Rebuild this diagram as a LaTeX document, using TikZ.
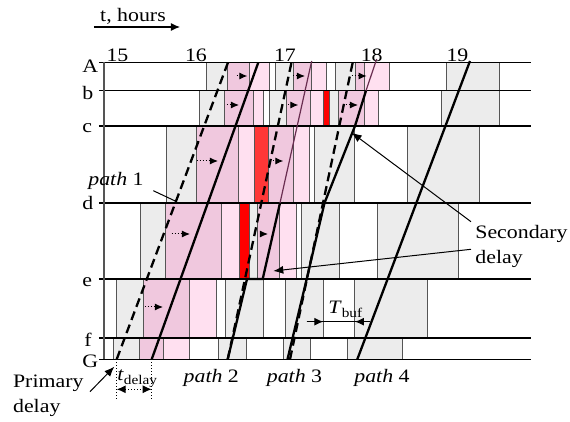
\documentclass[tikz,border=0pt]{standalone}
\usepackage{fontspec}
\setmainfont{Liberation Serif}[FakeStretch=1.15]
\usetikzlibrary{arrows.meta, positioning}

\definecolor{blkgray}{RGB}{236,236,236}
\definecolor{blkpink}{RGB}{240,200,222}
\definecolor{blkpale}{RGB}{255,224,240}
\definecolor{blkred}{RGB}{255,0,0}
\definecolor{blkredc}{RGB}{255,55,55}
\definecolor{edgegray}{RGB}{85,85,85}
\definecolor{pathplum}{RGB}{105,45,80}

\tikzset{
  gblk/.style={fill=blkgray, draw=edgegray, line width=0.5pt},
  pblk/.style={fill=blkpink, draw=edgegray, line width=0.5pt},
  lblk/.style={fill=blkpale, draw=edgegray, line width=0.5pt},
  rblk/.style={fill=blkred, draw=edgegray, line width=0.5pt},
  rcblk/.style={fill=blkredc, draw=edgegray, line width=0.5pt},
  stationline/.style={line width=0.6pt},
  realpath/.style={line width=1.15pt},
  thinpath/.style={line width=0.6pt, draw=pathplum},
  planpath/.style={line width=1.15pt, dash pattern=on 4.5pt off 2.5pt},
  shiftarrow/.style={densely dotted, line width=0.5pt, -{Latex[length=4pt,width=3.5pt]}},
  callout/.style={line width=0.5pt, -{Latex[length=5pt,width=4pt]}},
  lbl/.style={font=\fontsize{9.5}{12.5}\selectfont, inner sep=0pt},
}

\begin{document}
\begin{tikzpicture}[x=0.5pt, y=-0.5pt]
\useasboundingbox (0,0) rectangle (570,422);

% blocks, row A
\foreach \xa/\xb/\s in {206.7/227.3/gblk, 227.3/250/pblk, 250/270/lblk, 275.7/293.3/gblk,
    293.3/311.7/pblk, 311.7/326.7/lblk, 335.7/356/gblk, 356/365/pblk, 365/389.3/lblk, 446.7/500/gblk}
  \draw[\s] (\xa,62.5) rectangle (\xb,90.7);
% row b
\foreach \xa/\xb/\s in {200/225/gblk, 225/253.3/pblk, 253.3/263.3/lblk, 270/286.7/gblk,
    286.7/310.7/pblk, 310.7/323.3/lblk, 323.3/330/rblk, 330/338.3/gblk, 338.3/365/pblk,
    365/379/lblk, 441.7/500/gblk}
  \draw[\s] (\xa,90.7) rectangle (\xb,126);
% row c
\foreach \xa/\xb/\s in {166.7/196.7/gblk, 196.7/238.3/pblk, 238.3/255/lblk, 255/268.3/rcblk,
    268.3/293.3/pblk, 293.3/309.3/lblk, 315/355/gblk, 407.7/480/gblk}
  \draw[\s] (\xa,126) rectangle (\xb,203);
% row d
\foreach \xa/\xb/\s in {141/165.7/gblk, 165.7/221.7/pblk, 221.7/240/lblk, 240/250/rblk,
    250/257.7/gblk, 257.7/280/pblk, 280/296.7/lblk, 301.7/340/gblk, 377.7/458.3/gblk}
  \draw[\s] (\xa,203) rectangle (\xb,279);
% row e
\foreach \xa/\xb/\s in {116.7/144/gblk, 144/190/pblk, 190/216.7/lblk, 226/263.3/gblk,
    286/323.3/gblk, 355/427.7/gblk}
  \draw[\s] (\xa,279) rectangle (\xb,338);
% row f
\foreach \xa/\xb/\s in {114/139.3/gblk, 139.3/164/pblk, 164/189.3/lblk, 218.3/246.7/gblk,
    283.3/310.7/gblk, 347.7/402.3/gblk}
  \draw[\s] (\xa,338) rectangle (\xb,359.3);

% shifts of delayed blocks
\foreach \xa/\xb/\y in {236.7/247.3/76, 293.3/305/76, 351.7/366.7/76,
    227/239/105, 288.3/298.3/105, 343/358/105,
    196.7/218/161, 270/283.3/161, 171.7/190/234, 260/268/234, 145/163/307}
  \draw[shiftarrow] (\xa,\y) -- (\xb,\y);

% stations and axis
\foreach \name/\y in {A/62.5, b/90.7, c/126, d/203, e/279, f/338, G/359.3}
  \draw[stationline] (99,\y) -- (530.7,\y);
\draw[edgegray, line width=0.8pt] (104.3,62.5) -- (104.3,359.3);

\node[lbl, anchor=base west] (stA) at (82,73) {A};
\node[lbl, anchor=base west] (stb) at (82,100) {b};
\node[lbl, anchor=base west] (stc) at (82,133) {c};
\node[lbl, anchor=base west] (std) at (82,210) {d};
\node[lbl, anchor=base west] (ste) at (82,287) {e};
\node[lbl, anchor=base west] (stf) at (84,346.5) {f};
\node[lbl, anchor=base west] (stG) at (82,368) {G};

\node[lbl, anchor=base] (h15) at (117.5,61.5) {15};
\node[lbl, anchor=base] (h16) at (196,61.5) {16};
\node[lbl, anchor=base] (h17) at (285,61.5) {17};
\node[lbl, anchor=base] (h18) at (371.7,61.5) {18};
\node[lbl, anchor=base] (h19) at (457.5,61.5) {19};

\node[lbl, anchor=base] (thours) at (133,21.5) {t, hours};
\coordinate (tax0) at (94,27);
\coordinate (tax1) at (180,27);
\draw[line width=0.6pt, -{Latex[length=4.5pt,width=4pt]}] (tax0) -- (tax1);

% planned paths
\coordinate (p1a) at (116.7,359.3); \coordinate (p1b) at (228,62.5);
\coordinate (p2a) at (227.7,359.3); \coordinate (p2b) at (291.5,62.5);
\coordinate (p3a) at (290,359.3);   \coordinate (p3b) at (352.7,62.5);
\draw[planpath] (p1a) -- (p1b);
\draw[planpath] (p2a) -- (p2b);
\draw[planpath] (p3a) -- (p3b);

% real paths
\coordinate (q1a) at (151.7,359.3); \coordinate (q1b) at (258.3,62.5);
\draw[realpath] (q1a) -- (q1b);
\coordinate (q2a) at (227.7,359.3); \coordinate (q2b) at (247,279);
\coordinate (q2c) at (262.7,279);   \coordinate (q2d) at (280,203);
\coordinate (q2e) at (311.7,61);
\draw[realpath] (q2a) -- (q2b) -- (q2c) -- (q2d);
\draw[thinpath] (q2d) -- (q2e);
\coordinate (q3a) at (287.5,359.3); \coordinate (q3b) at (306.7,279);
\coordinate (q3c) at (324.5,203);   \coordinate (q3d) at (355,126);
\coordinate (q3e) at (366,90.7);    \coordinate (q3f) at (376.7,59);
\draw[realpath] (q3a) -- (q3b) -- (q3c) -- (q3d) -- (q3e);
\draw[thinpath] (q3e) -- (q3f);
\coordinate (q4a) at (357.3,359.3); \coordinate (q4b) at (470,61);
\draw[realpath] (q4a) -- (q4b);

% path labels
\node[lbl, anchor=base] (path1) at (116,186) {\textit{path} 1};
\coordinate (path1end) at (176.7,201.7);
\draw[line width=0.5pt] (153.3,190.7) -- (path1end);
\node[lbl, anchor=base] (path2) at (211.3,383) {\textit{path} 2};
\node[lbl, anchor=base] (path3) at (294.5,383) {\textit{path} 3};
\node[lbl, anchor=base] (path4) at (382,383) {\textit{path} 4};

% secondary delay
\node[lbl, align=left, anchor=north west] (secd) at (475,225) {Secondary\\delay};
\coordinate (sd1) at (471,221.7); \coordinate (st1) at (351.7,132.7);
\coordinate (sd2) at (471,249.3); \coordinate (st2) at (273.3,271);
\draw[callout] (sd1) -- (st1);
\draw[callout] (sd2) -- (st2);

% primary delay
\node[lbl, align=left, anchor=north west] (primd) at (12.7,375) {Primary\\delay};
\coordinate (pd1) at (90,391.7); \coordinate (pt1) at (114.3,366.7);
\draw[callout] (pd1) -- (pt1);

% t delay
\coordinate (td0) at (116.7,359.3); \coordinate (td1) at (151.7,359.3);
\coordinate (td0b) at (116.7,400.7); \coordinate (td1b) at (151.7,400.7);
\draw[densely dotted, line width=0.5pt] (td0) -- (td0b);
\draw[densely dotted, line width=0.5pt] (td1) -- (td1b);
\draw[densely dotted, line width=0.5pt, {Latex[length=4.5pt,width=4pt]}-{Latex[length=4.5pt,width=4pt]}]
  (116.7,389.3) -- (151.7,389.3);
\node[lbl, anchor=base west] (tdelay) at (117,381) {\textit{t}\textsubscript{delay}};

% buffer time
\coordinate (tb0) at (306.7,321.7); \coordinate (tb1) at (323.3,321.7);
\coordinate (tb2) at (355,321.7);   \coordinate (tb3) at (370,321.7);
\draw[line width=0.5pt] (tb0) -- (tb3);
\draw[line width=0.5pt, -{Latex[length=4.5pt,width=4pt]}] (tb0) -- (tb1);
\draw[line width=0.5pt, -{Latex[length=4.5pt,width=4pt]}] (tb3) -- (tb2);
\node[lbl, anchor=base west] (tbuf) at (328,314) {\textit{T}\textsubscript{buf}};

\end{tikzpicture}
\end{document}
